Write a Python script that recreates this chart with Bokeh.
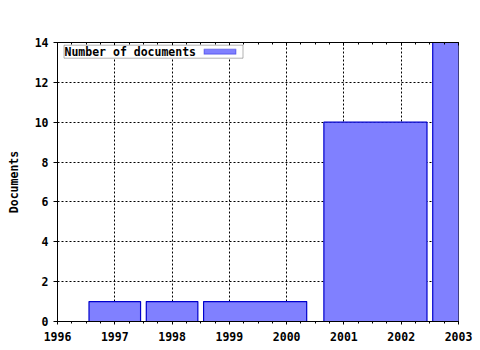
from bokeh.plotting import figure
from bokeh.models import (Range1d, SingleIntervalTicker, LinearAxis, BoxAnnotation, Label)
from bokeh.embed import file_html
from bokeh.resources import INLINE

# Data
bar_start = [1996.55, 1997.55, 1998.55, 2000.65, 2002.55]
bar_end = [1997.45, 1998.45, 2000.35, 2002.45, 2003.45]
documents = [1, 1, 1, 10, 14]
series_name = "Number of documents"
y_label = "Documents"

FONT = "DejaVu Sans Mono"
FS = "11.5px"

p = figure(frame_width=401, frame_height=279, output_backend="svg", toolbar_location=None,
           x_range=Range1d(1996, 2003), y_range=Range1d(0, 14),
           min_border_left=57, min_border_right=22, min_border_top=42, min_border_bottom=29,
           background_fill_color="white", border_fill_color="white")
p.outline_line_color = "black"
p.outline_line_width = 1

p.quad(left=bar_start, right=bar_end, bottom=0, top=documents,
       fill_color="#8080FF", line_color="#0000CC", line_width=1.2)

xt = SingleIntervalTicker(interval=1, num_minor_ticks=4)
yt = SingleIntervalTicker(interval=2, num_minor_ticks=0)

xa = p.xaxis[0]
xa.ticker = xt
ya = p.yaxis[0]
ya.ticker = yt
for ax in (xa, ya):
    ax.axis_line_color = "black"
    ax.major_tick_line_color = "black"
    ax.minor_tick_line_color = "black"
    ax.major_label_text_font = FONT
    ax.major_label_text_font_size = FS
    ax.major_label_text_font_style = "bold"
    ax.major_label_text_color = "black"
    ax.major_tick_in = 0
    ax.minor_tick_in = 0

xa.major_tick_out = 3
xa.minor_tick_out = 2
xa.major_label_standoff = 7
ya.major_tick_out = 4
ya.minor_tick_out = 0
ya.major_label_standoff = 5

ya.axis_label = y_label
ya.axis_label_text_font = FONT
ya.axis_label_text_font_size = FS
ya.axis_label_text_font_style = "bold"
ya.axis_label_text_color = "black"
ya.axis_label_standoff = 11

top = LinearAxis(ticker=xt, major_tick_in=3, major_tick_out=0, minor_tick_in=2, minor_tick_out=0,
                 major_label_text_color=None, axis_line_color="black",
                 major_tick_line_color="black", minor_tick_line_color="black",
                 major_label_text_font_size="1px")
p.add_layout(top, "above")

for g in (p.xgrid[0], p.ygrid[0]):
    g.grid_line_color = "black"
    g.grid_line_dash = "2 2"
    g.grid_line_width = 1
p.xgrid[0].ticker = xt
p.ygrid[0].ticker = yt

# Legend (gnuplot style: text then swatch, boxed)
p.add_layout(BoxAnnotation(left=6.5, right=185.5, bottom=263.3, top=276.3,
                           left_units="screen", right_units="screen",
                           bottom_units="screen", top_units="screen",
                           fill_color="white", fill_alpha=1, line_color="black", line_width=1,
                           level="overlay"))
p.add_layout(BoxAnnotation(left=146.5, right=178.5, bottom=267.3, top=272.3,
                           left_units="screen", right_units="screen",
                           bottom_units="screen", top_units="screen",
                           fill_color="#8080FF", fill_alpha=1, line_color="#0000CC", line_width=1.2,
                           level="overlay"))
p.add_layout(Label(x=7, y=269.8, x_units="screen", y_units="screen", text=series_name,
                   text_font=FONT, text_font_size=FS, text_font_style="bold",
                   text_baseline="middle", text_align="left", text_color="black",
                   level="overlay"))

open("out.html", "w").write(file_html(p, INLINE))
